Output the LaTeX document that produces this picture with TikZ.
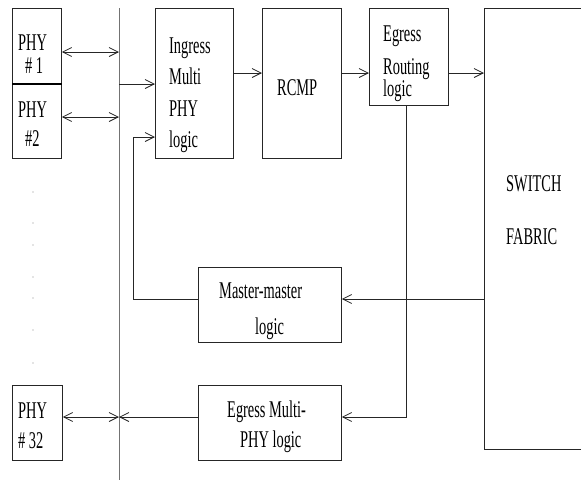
\documentclass[tikz,border=0pt]{standalone}
\usepackage{fontspec}
\setmainfont[FakeStretch=0.6]{Liberation Serif}
\usetikzlibrary{arrows.meta}
\begin{document}
\begin{tikzpicture}[x=1pt,y=-1pt,
  box/.style={draw=black!85, line width=0.8pt, inner sep=0pt, anchor=north west},
  txt/.style={anchor=base west, inner sep=0pt, font=\fontsize{24}{26}\selectfont},
  ln/.style={line width=0.8pt, draw=black!85},
  ar/.style={ln, -{Straight Barb[length=9pt,width=9pt,line width=0.8pt]}},
  dar/.style={ln, {Straight Barb[length=9pt,width=9pt,line width=0.8pt]}-{Straight Barb[length=9pt,width=9pt,line width=0.8pt]}},
  dotm/.style={fill=black!45, draw=none, circle, inner sep=0pt, minimum size=1.2pt}]
\useasboundingbox (0,0) rectangle (581,480);
\clip (0,0) rectangle (581,480);
% boxes
\node[box, minimum width=49pt, minimum height=76pt] (phy1) at (12,8) {};
\node[box, minimum width=49pt, minimum height=74pt] (phy2) at (12,84) {};
\node[box, minimum width=78pt, minimum height=150pt] (ing) at (155,8) {};
\node[box, minimum width=79pt, minimum height=150pt] (rcmp) at (262,8) {};
\node[box, minimum width=79pt, minimum height=97pt] (egr) at (369,8) {};
\node[box, minimum width=130pt, minimum height=441pt] (sw) at (484,8) {};
\node[box, minimum width=143pt, minimum height=75pt] (mm) at (198,267) {};
\node[box, minimum width=143pt, minimum height=75pt] (emp) at (198,385) {};
\node[box, minimum width=50pt, minimum height=75pt] (phy32) at (12,385) {};
\draw[line width=1.8pt] (phy2.north west) -- (phy2.north east);
% texts
\node[txt] (tp1a) at (18,50) {PHY};
\node[txt] (tp1b) at (25,73) {\# 1};
\node[txt] (tp2a) at (18,117) {PHY};
\node[txt] (tp2b) at (25,146) {\#2};
\node[txt] (tia) at (169,53) {Ingress};
\node[txt] (tib) at (169,84) {Multi};
\node[txt] (tic) at (169,116) {PHY};
\node[txt] (tid) at (169,147) {logic};
\node[txt] (tr) at (277,95) {RCMP};
\node[txt] (tea) at (383,41) {Egress};
\node[txt] (teb) at (383,74) {Routing};
\node[txt] (tec) at (383,96) {logic};
\node[txt] (tsa) at (506,191) {SWITCH};
\node[txt] (tsb) at (506,244) {FABRIC};
\node[txt] (tma) at (219,298) {Master-master};
\node[txt] (tmb) at (255,334) {logic};
\node[txt] (tna) at (227,417) {Egress Multi-};
\node[txt] (tnb) at (240,447) {PHY logic};
\node[txt] (t32a) at (18,418) {PHY};
\node[txt] (t32b) at (18,448) {\# 32};
% dots
\foreach \yy [count=\i] in {192,223,245,277,298,330,363}
  \node[dotm] (d\i) at (33,\yy) {};
% bus
\coordinate (bt) at (119,8);
\coordinate (bb) at (119,480);
\draw[line width=1pt, draw=black!55] (bt) -- (bb);
\coordinate (b1) at (119,52);
\coordinate (b2) at (119,117);
\coordinate (bi) at (119,84);
\coordinate (b32) at (119,417);
% connectors
\draw[dar] (phy1.east |- b1) -- (b1);
\draw[dar] (phy2.east |- b2) -- (b2);
\draw[dar] (phy32.east |- b32) -- (b32);
\draw[ar] (bi) -- (ing.west |- bi);
\coordinate (r1) at (262,73);
\draw[ar] (ing.east |- r1) -- (r1);
\draw[ar] (rcmp.east |- r1) -- (egr.west |- r1);
\draw[ar] (egr.east |- r1) -- (sw.west |- r1);
\coordinate (m1) at (484,299);
\draw[ar] (m1) -- (mm.east |- m1);
\coordinate (mc) at (133,299);
\coordinate (mu) at (133,137);
\draw[ar] (mm.west |- mc) -- (mc) -- (mu) -- (ing.west |- mu);
\coordinate (er) at (406,417);
\draw[ar] (egr.south -| er) -- (er) -- (emp.east |- er);
\draw[ar] (emp.west |- b32) -- (b32);
\end{tikzpicture}
\end{document}
